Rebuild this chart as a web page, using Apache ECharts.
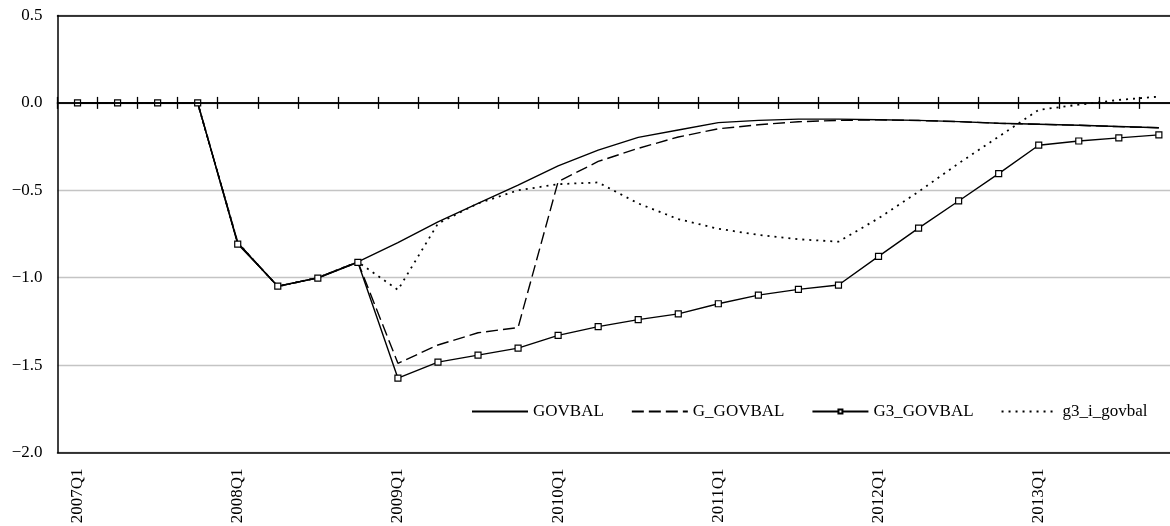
<!DOCTYPE html>
<html>
<head>
<meta charset="utf-8">
<script src="https://cdn.jsdelivr.net/npm/echarts@6/dist/echarts.min.js"></script>
<style>html,body{margin:0;padding:0;background:#fff;}#chart{width:1170px;height:526px;}</style>
</head>
<body>
<div id="chart"></div>
<script>
var quarters = ['2007Q1','2007Q2','2007Q3','2007Q4','2008Q1','2008Q2','2008Q3','2008Q4',
  '2009Q1','2009Q2','2009Q3','2009Q4','2010Q1','2010Q2','2010Q3','2010Q4',
  '2011Q1','2011Q2','2011Q3','2011Q4','2012Q1','2012Q2','2012Q3','2012Q4',
  '2013Q1','2013Q2','2013Q3','2013Q4'];
var govbal = [0,0,0,0,-0.80,-1.05,-1.00,-0.91,
  -0.80,-0.68,-0.575,-0.47,-0.36,-0.27,-0.197,-0.155,
  -0.113,-0.100,-0.093,-0.093,-0.096,-0.100,-0.107,-0.116,
  -0.122,-0.128,-0.135,-0.142];
var gGovbal = [0,0,0,0,-0.80,-1.05,-1.00,-0.91,
  -1.49,-1.385,-1.315,-1.285,-0.45,-0.335,-0.26,-0.195,
  -0.148,-0.125,-0.108,-0.100,-0.097,-0.101,-0.107,-0.117,
  -0.122,-0.128,-0.136,-0.142];
var g3Govbal = [0,0,0,0,-0.808,-1.048,-1.002,-0.912,
  -1.575,-1.483,-1.443,-1.403,-1.33,-1.28,-1.24,-1.207,
  -1.149,-1.100,-1.067,-1.042,-0.878,-0.716,-0.561,-0.405,
  -0.242,-0.218,-0.200,-0.183];
var g3iGovbal = [0,0,0,0,-0.80,-1.05,-1.00,-0.91,
  -1.07,-0.69,-0.575,-0.50,-0.465,-0.455,-0.575,-0.665,
  -0.72,-0.755,-0.78,-0.794,-0.66,-0.508,-0.346,-0.193,
  -0.04,-0.01,0.017,0.036];
var seriesNames = ['GOVBAL','G_GOVBAL','G3_GOVBAL','g3_i_govbal'];

var FONT = 'Liberation Serif';
var chart = echarts.init(document.getElementById('chart'), null, {renderer: 'canvas'});
var hiddenLabel = {show: false};
var noSymbol = {opacity: 0};
chart.setOption({
  animation: false,
  backgroundColor: '#ffffff',
  grid: {
    left: 57.5, top: 15.5, width: 1121.4, height: 437,
    show: false, outerBoundsMode: 'none', containLabel: false
  },
  legend: {
    data: [
      {name: seriesNames[0], itemStyle: noSymbol},
      {name: seriesNames[1], itemStyle: noSymbol},
      {name: seriesNames[2]},
      {name: seriesNames[3], itemStyle: noSymbol}
    ],
    left: 471, top: 403, padding: 0,
    itemWidth: 56, itemHeight: 5, itemGap: 27,
    textStyle: {fontFamily: FONT, fontSize: 17, color: '#000'}
  },
  xAxis: [
    {
      type: 'category', data: quarters, position: 'bottom', boundaryGap: true,
      axisLine: {show: true, onZero: true, onZeroAxisIndex: 0, lineStyle: {color: '#000', width: 1.5}},
      axisTick: {show: true, interval: 0, length: 6, lineStyle: {color: '#000', width: 1.3}},
      axisLabel: hiddenLabel, splitLine: {show: false}, z: 5
    },
    {
      type: 'category', data: quarters, position: 'top', boundaryGap: true,
      axisLine: {show: true, onZero: true, onZeroAxisIndex: 0, lineStyle: {color: '#000', width: 1.5}},
      axisTick: {show: true, interval: 0, length: 6, lineStyle: {color: '#000', width: 1.3}},
      axisLabel: hiddenLabel, splitLine: {show: false}, z: 5
    },
    {
      type: 'category', data: quarters, position: 'bottom', boundaryGap: true,
      axisLine: {show: true, onZero: false, lineStyle: {color: '#000', width: 1.5}},
      axisTick: {show: false},
      axisLabel: {show: true, interval: 3, rotate: 90, margin: 16,
        fontFamily: FONT, fontSize: 17, color: '#000'},
      splitLine: {show: false}, z: 5
    },
    {
      type: 'category', data: quarters, position: 'top', boundaryGap: true,
      axisLine: {show: true, onZero: false, lineStyle: {color: '#000', width: 1.5}},
      axisTick: {show: false},
      axisLabel: hiddenLabel, splitLine: {show: false}, z: 5
    }
  ],
  yAxis: {
    type: 'value', min: -2, max: 0.5, interval: 0.5,
    axisLine: {show: true, lineStyle: {color: '#000', width: 1.5}},
    axisTick: {show: false},
    axisLabel: {
      margin: 15, fontFamily: FONT, fontSize: 17, color: '#000',
      formatter: function (v) { return v.toFixed(1).replace('-', '\u2212'); }
    },
    splitLine: {show: true, lineStyle: {color: '#c4c4c4', width: 1.3}}
  },
  series: [
    {
      name: seriesNames[0], type: 'line', xAxisIndex: 0, data: govbal,
      symbol: 'none', lineStyle: {color: '#000', width: 1.4, type: 'solid'},
      itemStyle: {color: '#000'}, z: 3
    },
    {
      name: seriesNames[1], type: 'line', xAxisIndex: 0, data: gGovbal,
      symbol: 'none', lineStyle: {color: '#000', width: 1.4, type: [12, 5]},
      itemStyle: {color: '#000'}, z: 3
    },
    {
      name: seriesNames[2], type: 'line', xAxisIndex: 0, data: g3Govbal,
      symbol: 'rect', symbolSize: 6, showSymbol: true,
      lineStyle: {color: '#000', width: 1.4, type: 'solid'},
      itemStyle: {color: '#fff', borderColor: '#000', borderWidth: 1.2}, z: 4
    },
    {
      name: seriesNames[3], type: 'line', xAxisIndex: 0, data: g3iGovbal,
      symbol: 'none', lineStyle: {color: '#000', width: 1.8, type: [2, 5]},
      itemStyle: {color: '#000'}, z: 3
    }
  ]
});
</script>
</body>
</html>
